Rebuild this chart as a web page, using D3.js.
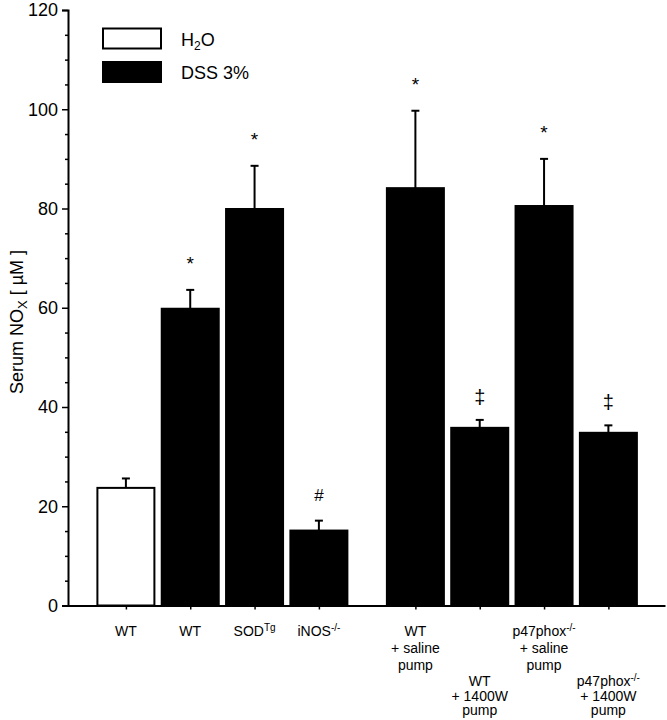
<!DOCTYPE html>
<html>
<head>
<meta charset="utf-8">
<script src="https://cdn.jsdelivr.net/npm/d3@7"></script>
<style>
  html, body { margin: 0; padding: 0; background: #fff; }
  svg { display: block; }
  text { font-family: "Liberation Sans", Arial, Helvetica, sans-serif; fill: #000; }
</style>
</head>
<body>
<svg id="chart" width="667" height="720"></svg>
<script>
// ---------- data ----------
const categories = [
  ["WT"],
  ["WT"],
  ["SOD^Tg"],
  ["iNOS^-/-"],
  ["WT", "+ saline", "pump"],
  ["WT", "+ 1400W", "pump"],
  ["p47phox^-/-", "+ saline", "pump"],
  ["p47phox^-/-", "+ 1400W", "pump"]
];
const treatment = ["H2O", "DSS", "DSS", "DSS", "DSS", "DSS", "DSS", "DSS"];
const values = [23.7, 59.8, 79.9, 15.1, 84.1, 35.8, 80.5, 34.8];
const sem = [1.9, 3.8, 8.7, 2.0, 15.6, 1.6, 9.5, 1.5];
const marks = ["", "*", "*", "#", "*", "\u2021", "*", "\u2021"];
const lowerLabel = [false, false, false, false, false, true, false, true];
const yMajorTicks = [0, 20, 40, 60, 80, 100, 120];
const yMinorTicks = d3.range(0, 121, 5).filter(v => v % 20 !== 0);
const legendItems = [{ key: "H2O", label: ["H", "2", "O"] }, { key: "DSS", label: ["DSS 3%"] }];

// ---------- layout ----------
const svg = d3.select("#chart");
const y = d3.scaleLinear().domain([0, 120]).range([605.5, 10]);
const slot = i => i + (i >= 4 ? 0.5 : 0);
const x = d3.scaleLinear().domain([-0.9, 8.38]).range([68, 665]);
const barW = x(0.886) - x(0);
const fill = d3.scaleOrdinal().domain(["H2O", "DSS"]).range(["#fff", "#000"]);

// bars
const bars = svg.append("g");
values.forEach((v, i) => {
  const cx = x(slot(i));
  bars.append("rect")
    .attr("x", cx - barW / 2)
    .attr("y", y(v))
    .attr("width", barW)
    .attr("height", y(0) - y(v))
    .attr("fill", fill(treatment[i]))
    .attr("stroke", "#000")
    .attr("stroke-width", 2);
  const top = y(v + sem[i]);
  bars.append("line")
    .attr("x1", cx).attr("x2", cx)
    .attr("y1", y(v)).attr("y2", top)
    .attr("stroke", "#000").attr("stroke-width", 2);
  bars.append("line")
    .attr("x1", cx - 4).attr("x2", cx + 4)
    .attr("y1", top).attr("y2", top)
    .attr("stroke", "#000").attr("stroke-width", 2);
  if (marks[i]) {
    const isStar = marks[i] === "*";
    const off = isStar ? 30 : (marks[i] === "#" ? 25 : 23);
    bars.append("text")
      .attr("x", cx)
      .attr("y", top - off)
      .attr("text-anchor", "middle")
      .attr("dominant-baseline", "central")
      .attr("font-size", isStar ? 19 : (marks[i] === "#" ? 17 : 20))
      .attr("dy", isStar ? 4 : 0)
      .text(marks[i]);
  }
});

// y axis
const yAxis = svg.append("g").attr("transform", "translate(68,0)")
  .call(d3.axisLeft(y).tickValues(yMajorTicks).tickSize(6).tickPadding(4).tickFormat(d3.format("d")));
yAxis.selectAll("text").attr("font-size", 18).attr("font-family", "Liberation Sans, Arial, sans-serif");
yAxis.select(".domain").attr("stroke-width", 2);
yAxis.selectAll(".tick line").attr("stroke-width", 1.5);
const yMinor = svg.append("g").attr("transform", "translate(68,0)")
  .call(d3.axisLeft(y).tickValues(yMinorTicks).tickSize(3).tickFormat(""));
yMinor.select(".domain").remove();
yMinor.selectAll(".tick line").attr("stroke-width", 1.5);

// x axis
const xAxis = svg.append("g").attr("transform", `translate(0,${y(0)})`)
  .call(d3.axisBottom(x).tickValues(values.map((d, i) => slot(i))).tickSize(4).tickSizeOuter(0).tickFormat(""));
xAxis.select(".domain").attr("stroke-width", 2);
xAxis.selectAll(".tick line").attr("stroke-width", 1.5);

// category labels
function addRich(sel, str) {
  const parts = str.split("^");
  sel.append("tspan").text(parts[0]);
  if (parts[1]) {
    sel.append("tspan").attr("dy", -5).attr("font-size", 10).text(parts[1]);
  }
}
const labG = svg.append("g");
categories.forEach((lines, i) => {
  const cx = x(slot(i));
  const base = lowerLabel[i] ? 686 : 636;
  const step = lowerLabel[i] ? 14.5 : 17;
  lines.forEach((ln, j) => {
    const t = labG.append("text")
      .attr("x", cx)
      .attr("y", base + j * step)
      .attr("text-anchor", "middle")
      .attr("font-size", 14);
    addRich(t, ln);
  });
});

// y title
const yt = svg.append("text")
  .attr("transform", "translate(23,322) rotate(-90)")
  .attr("text-anchor", "middle")
  .attr("font-size", 18);
yt.append("tspan").text("Serum NO");
yt.append("tspan").attr("dy", 4).attr("font-size", 13).text("X");
yt.append("tspan").attr("dy", -4).text(" [ \u00b5M ]");

// legend
const lg = svg.append("g");
legendItems.forEach((it, i) => {
  const yy = 28.5 + i * 33.5;
  lg.append("rect")
    .attr("x", 103).attr("y", yy)
    .attr("width", 58).attr("height", 20)
    .attr("fill", fill(it.key))
    .attr("stroke", "#000").attr("stroke-width", 2);
  const t = lg.append("text").attr("x", 181).attr("y", yy + 17).attr("font-size", 18);
  if (it.label.length === 3) {
    t.append("tspan").text(it.label[0]);
    t.append("tspan").attr("dy", 4).attr("font-size", 12).text(it.label[1]);
    t.append("tspan").attr("dy", -4).text(it.label[2]);
  } else {
    t.text(it.label[0]);
  }
});
</script>
</body>
</html>
